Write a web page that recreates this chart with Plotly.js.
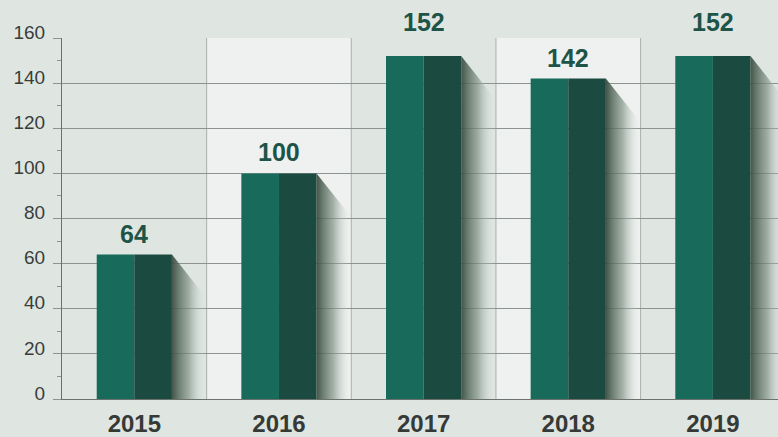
<!DOCTYPE html>
<html>
<head>
<meta charset="utf-8">
<script src="https://cdn.plot.ly/plotly-3.0.1.min.js"></script>
<style>html,body{margin:0;padding:0;background:#dfe6e2;}#chart{width:778px;height:437px;}</style>
</head>
<body>
<div id="chart"></div>
<script>
// ---- data ----
const years = ['2015', '2016', '2017', '2018', '2019'];
const values = [64, 100, 152, 142, 152];
const yTickVals = [0, 20, 40, 60, 80, 100, 120, 140, 160];
const yTickText = ['0', '20', '40', '60', '80', '100', '120', '140', '160'];

// ---- style ----
const pageBg = '#dfe6e2';
const altBg = '#eef1ef';
const leftColor = '#186a5a';
const rightColor = '#1b4a40';
const labelColor = '#1d5447';
const halfW = 0.26;
const shadowW = 0.235;
const shadowDrop = 19;
const yMax = 160;

const idx = years.map((_, i) => i);
const traces = [];

// shadows (drawn first, behind bars)
idx.forEach(i => {
  const x0 = i + halfW;
  const v = values[i];
  traces.push({
    type: 'scatter', mode: 'lines',
    x: [x0, x0, x0 + shadowW, x0 + shadowW, x0],
    y: [0, v, v - shadowDrop, 0, 0],
    fill: 'toself',
    fillgradient: {
      type: 'horizontal',
      colorscale: [[0, 'rgba(58,78,64,0.95)'], [0.5, 'rgba(125,143,131,0.65)'], [1, 'rgba(225,232,228,0)']]
    },
    line: {width: 0},
    hoverinfo: 'skip', showlegend: false
  });
});

// left (lighter) face
traces.push({
  type: 'bar', x: idx, y: values, width: halfW, offset: -halfW,
  marker: {color: leftColor, line: {width: 0}},
  hoverinfo: 'skip', showlegend: false
});
// right (darker) face
traces.push({
  type: 'bar', x: idx, y: values, width: halfW, offset: 0,
  marker: {color: rightColor, line: {width: 0}},
  hoverinfo: 'skip', showlegend: false
});

// column backgrounds + dividers
const shapes = [];
idx.forEach(i => {
  if (i % 2 === 1) {
    shapes.push({type: 'rect', layer: 'below', xref: 'x', yref: 'y',
      x0: i - 0.5, x1: i + 0.5, y0: 0, y1: yMax,
      fillcolor: altBg, line: {width: 0}});
  }
});
idx.slice(1).forEach(i => {
  shapes.push({type: 'line', layer: 'below', xref: 'x', yref: 'y',
    x0: i - 0.5, x1: i - 0.5, y0: 0, y1: yMax,
    line: {color: '#a9b1ac', width: 1}});
});

// value labels: placed above bar, or above the frame if they would cross it
const pxPerUnit = 361 / yMax;
const labelNeed = 38 / pxPerUnit;
const annotations = idx.map(i => {
  const v = values[i];
  const above = v + labelNeed > yMax;
  return {
    x: i, xref: 'x',
    y: above ? 1 : v, yref: above ? 'paper' : 'y',
    yanchor: 'bottom', yshift: above ? 0 : 5,
    text: String(v), showarrow: false,
    font: {family: 'Liberation Sans, Arial, sans-serif', size: 25, color: labelColor, weight: 'bold'}
  };
});

const layout = {
  width: 778, height: 437,
  margin: {l: 62, r: 0, t: 38, b: 38, pad: 0},
  paper_bgcolor: pageBg, plot_bgcolor: pageBg,
  barmode: 'overlay',
  showlegend: false,
  xaxis: {
    type: 'linear', range: [-0.5, 4.45],
    tickvals: idx, ticktext: years,
    showgrid: false, zeroline: false,
    showline: true, linecolor: '#6b726e', linewidth: 1,
    ticks: '', ticklabelstandoff: 3,
    tickfont: {family: 'Liberation Sans, Arial, sans-serif', size: 24, color: '#353a37', weight: 'bold'},
    fixedrange: true
  },
  yaxis: {
    range: [0, yMax],
    tickvals: yTickVals, ticktext: yTickText,
    showgrid: true, gridcolor: '#8d9490', gridwidth: 1,
    zeroline: false,
    showline: true, linecolor: '#6b726e', linewidth: 1,
    ticks: 'outside', ticklen: 8, tickcolor: '#8d9490', tickwidth: 1,
    minor: {dtick: 10, ticks: 'outside', ticklen: 4, tickcolor: '#8d9490', showgrid: false},
    ticklabelshift: -6, ticklabelstandoff: 4,
    tickfont: {family: 'Liberation Sans, Arial, sans-serif', size: 19, color: '#383d3a'},
    fixedrange: true
  },
  shapes: shapes,
  annotations: annotations
};

Plotly.newPlot('chart', traces, layout, {displayModeBar: false, staticPlot: true});
</script>
</body>
</html>
